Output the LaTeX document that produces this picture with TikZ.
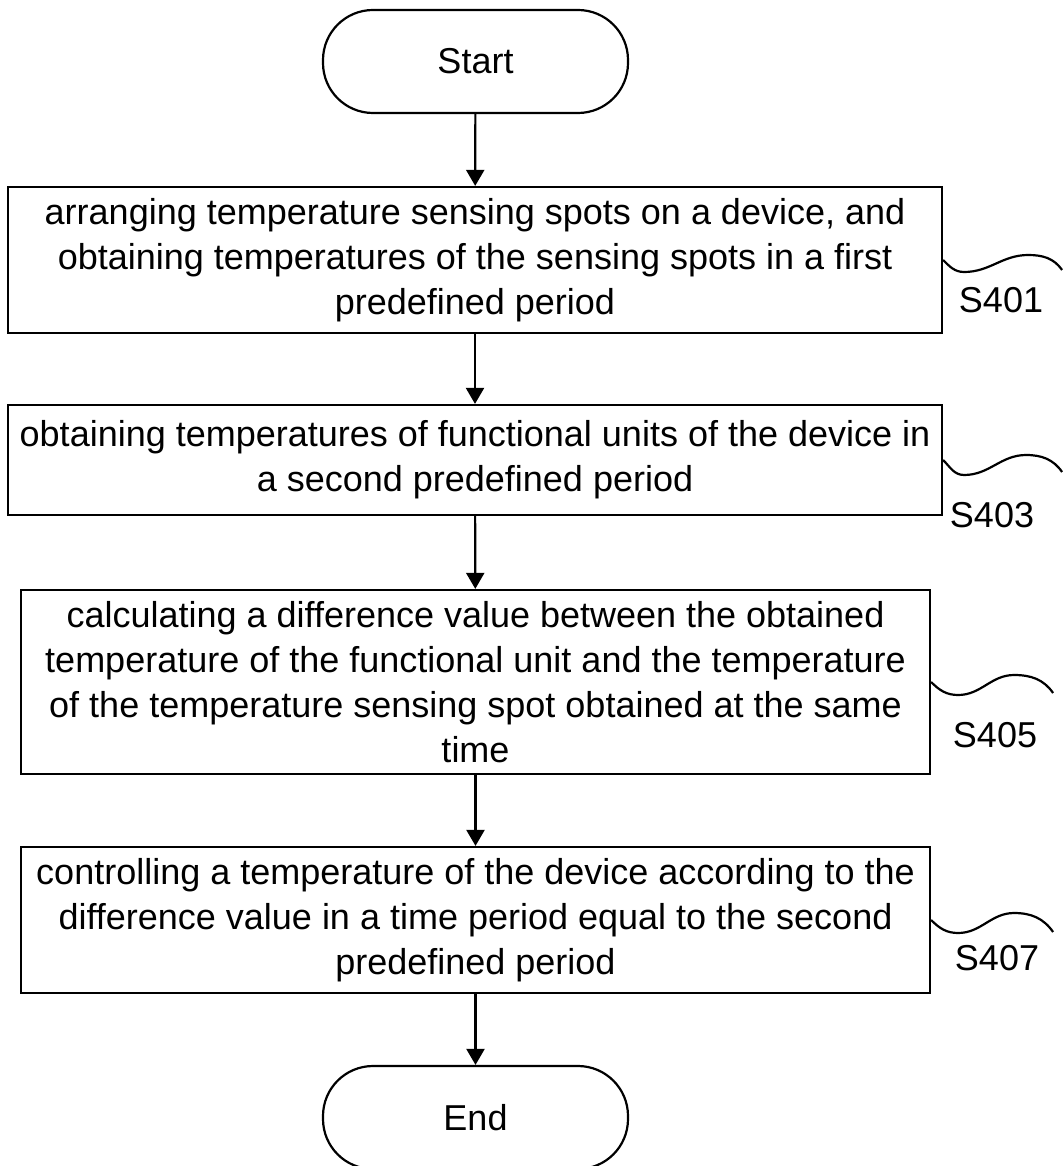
\documentclass[tikz,border=0pt]{standalone}
\usepackage{fontspec}
\setmainfont{Liberation Sans}
\usetikzlibrary{arrows.meta}
\begin{document}
\begin{tikzpicture}[x=1pt,y=-1pt,
  every node/.style={inner sep=0pt, font=\fontsize{36}{45}\selectfont},
  stepbox/.style={draw, line width=2.2pt, rectangle, align=center},
  term/.style={draw, line width=2.2pt, rectangle, rounded corners=50pt, minimum width=305pt, minimum height=103pt},
  flow/.style={line width=2.2pt, -{Triangle[width=18pt,length=16pt]}},
  wave/.style={line width=2.2pt}]
\useasboundingbox (0,0) rectangle (1062,1166);
\node[term] (start) at (475.5,61.5) {Start};
\node[stepbox, minimum width=934pt, minimum height=146pt] (b1) at (475,260)
  {arranging temperature sensing spots on a device, and\\obtaining temperatures of the sensing spots in a first\\predefined period};
\node[stepbox, minimum width=934pt, minimum height=110pt] (b2) at (475,460)
  {obtaining temperatures of functional units of the device in\\a second predefined period};
\node[stepbox, minimum width=909pt, minimum height=184pt] (b3) at (475.5,682)
  {calculating a difference value between the obtained\\temperature of the functional unit and the temperature\\of the temperature sensing spot obtained at the same\\time};
\node[stepbox, minimum width=909pt, minimum height=146pt] (b4) at (475.5,920)
  {controlling a temperature of the device according to the\\difference value in a time period equal to the second\\predefined period};
\node[term] (end) at (475.5,1117.5) {End};
\node (l1) at (1001,300) {S401};
\node (l2) at (992,515) {S403};
\node (l3) at (995,735) {S405};
\node (l4) at (997,958) {S407};
\draw[flow] (start) -- (b1);
\draw[flow] (b1) -- (b2);
\draw[flow] (b2) -- (b3);
\draw[flow] (b3) -- (b4);
\draw[flow] (b4) -- (end);
\draw[wave] (b1.east) to[out=-45,in=180] ++(21,12) to[out=0,in=180] ++(64,-17) to[out=0,in=125] ++(34,15);
\draw[wave] (b2.east) to[out=-45,in=180] ++(21,15) to[out=0,in=180] ++(62,-20) to[out=0,in=125] ++(36,17);
\draw[wave] (b3.east) to[out=-45,in=180] ++(27,13) to[out=0,in=180] ++(56,-20) to[out=0,in=125] ++(39,18);
\draw[wave] (b4.east) to[out=-45,in=180] ++(27,13) to[out=0,in=180] ++(56,-20) to[out=0,in=125] ++(39,19);
\end{tikzpicture}
\end{document}
